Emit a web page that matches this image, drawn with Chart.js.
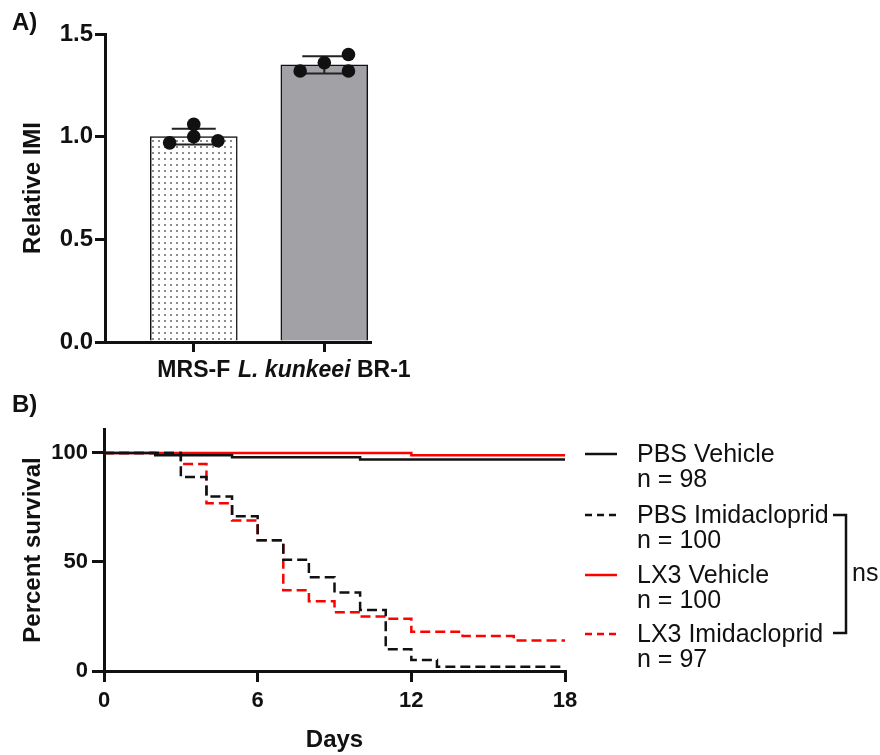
<!DOCTYPE html>
<html>
<head>
<meta charset="utf-8">
<script src="https://cdn.jsdelivr.net/npm/chart.js@4.4.1/dist/chart.umd.min.js"></script>
<style>
  html, body { margin: 0; padding: 0; background: #fff; }
  #page { position: relative; width: 880px; height: 755px; overflow: hidden;
          font-family: "Liberation Sans", Arial, sans-serif; color: #111; }
  #chartA { position: absolute; left: 0; top: 0; }
  #chartB { position: absolute; left: 0; top: 400px; }
  .panel { position: absolute; left: 12px; font-weight: bold; font-size: 24px; line-height: 24px; }
  .leg { position: absolute; left: 637px; font-size: 25px; line-height: 25px; white-space: nowrap; }
  #overlay { position: absolute; left: 0; top: 0; }
</style>
</head>
<body>
<div id="page">
  <canvas id="chartA" width="420" height="400"></canvas>
  <canvas id="chartB" width="600" height="355"></canvas>
  <div class="panel" style="top:10px">A)</div>
  <div class="panel" style="top:392px">B)</div>
  <svg id="overlay" width="880" height="755"></svg>
  <div id="legend"></div>
</div>
<script>
// ---- panel A: relative IMI ----
const barCategories = ['MRS-F', 'L. kunkeei BR-1'];
const italicPrefix = ['', 'L. kunkeei'];
const barMeans = [1.00, 1.35];
const barSD = [0.038, 0.042];
const mrsDots = [0.97, 1.06, 1.00, 0.98];
const mrsJitter = [-0.185, 0, 0, 0.185];
const lkDots = [1.32, 1.36, 1.40, 1.32];
const lkJitter = [-0.185, 0, 0.185, 0.185];
const yTicksA = [0, 0.5, 1.0, 1.5];

// ---- panel B: survival ----
const seriesNames = ['PBS Vehicle', 'PBS Imidacloprid', 'LX3 Vehicle', 'LX3 Imidacloprid'];
const seriesN = [98, 100, 100, 97];
const pbsVehDays = [0, 2, 5, 10, 18];
const pbsVehSurv = [100, 99, 98, 97, 97];
const pbsImiDays = [0, 3, 4, 5, 6, 7, 8, 9, 10, 11, 12, 13, 18];
const pbsImiSurv = [100, 89, 80, 71, 60, 51, 43, 36, 28, 10, 5, 2, 2];
const lx3VehDays = [0, 12, 18];
const lx3VehSurv = [100, 99, 99];
const lx3ImiDays = [0, 3, 4, 5, 6, 7, 8, 9, 10, 11, 12, 14, 16, 18];
const lx3ImiSurv = [100, 95, 77, 69, 60, 37, 32, 27, 25, 24, 18, 16, 14, 14];
const dayTicks = [0, 6, 12, 18];
const survTicks = [0, 50, 100];

const INK = '#111';
const FAM = '"Liberation Sans", Arial, sans-serif';
const tickFontA = { family: FAM, size: 24, weight: 'bold' };
const tickFont = { family: FAM, size: 22, weight: 'bold' };
const titleFont = { family: FAM, size: 24, weight: 'bold' };

function dotPattern() {
    const c = document.createElement('canvas');
    c.width = 6; c.height = 6;
    const g = c.getContext('2d');
    g.fillStyle = '#fff'; g.fillRect(0, 0, 6, 6);
    g.fillStyle = '#8c8c8c'; g.fillRect(2, 2, 2, 2);
    return g.createPattern(c, 'repeat');
}

function pts(xs, ys) { return xs.map((x, i) => ({ x: x, y: ys[i] })); }

// error bars drawn right after the bars, under the dots
const errorBars = {
    id: 'errorBars',
    afterDatasetDraw(chart, args) {
        if (args.index !== 1) return;
        const ctx = chart.ctx, xs = chart.scales.x, ys = chart.scales.y;
        ctx.save();
        ctx.strokeStyle = '#222';
        ctx.lineWidth = 2;
        barMeans.forEach((m, i) => {
            const x = xs.getPixelForValue(i + 1);
            const t = ys.getPixelForValue(m + barSD[i]);
            const b = ys.getPixelForValue(m - barSD[i]);
            ctx.beginPath();
            ctx.moveTo(x, t); ctx.lineTo(x, b);
            ctx.moveTo(x - 22, t); ctx.lineTo(x + 22, t);
            ctx.moveTo(x - 22, b); ctx.lineTo(x + 22, b);
            ctx.stroke();
        });
        ctx.restore();
    }
};

// category labels with the italic genus/species part
const catLabels = {
    id: 'catLabels',
    afterDraw(chart) {
        const ctx = chart.ctx, xs = chart.scales.x;
        ctx.save();
        ctx.fillStyle = INK;
        ctx.textBaseline = 'middle';
        ctx.textAlign = 'left';
        barCategories.forEach((lab, i) => {
            const it = italicPrefix[i];
            const rest = lab.slice(it.length);
            ctx.font = 'italic bold 23px ' + FAM;
            const w1 = it ? ctx.measureText(it).width : 0;
            ctx.font = 'bold 23px ' + FAM;
            const w2 = ctx.measureText(rest).width;
            let x = xs.getPixelForValue(i + 1) - (w1 + w2) / 2;
            const y = 371;
            if (it) {
                ctx.font = 'italic bold 23px ' + FAM;
                ctx.fillText(it, x, y);
                x += w1;
            }
            ctx.font = 'bold 23px ' + FAM;
            ctx.fillText(rest, x, y);
        });
        ctx.restore();
    }
};

const dots = mrsDots.map((v, i) => ({ x: 1 + mrsJitter[i], y: v }))
    .concat(lkDots.map((v, i) => ({ x: 2 + lkJitter[i], y: v })));

new Chart(document.getElementById('chartA'), {
    data: {
        datasets: [
            { type: 'scatter', data: dots, pointRadius: 6.8, pointHoverRadius: 6.8,
              backgroundColor: INK, borderWidth: 0 },
            { type: 'bar', data: barMeans.map((v, i) => ({ x: i + 1, y: v })),
              backgroundColor: [dotPattern(), '#a2a1a6'], borderColor: INK,
              borderWidth: 1.5, barThickness: 87 },
        ],
    },
    options: {
        responsive: false, animation: false,
        layout: { padding: { left: 0, top: 34, right: 50, bottom: 0 } },
        plugins: { legend: { display: false }, tooltip: { enabled: false } },
        scales: {
            x: {
                type: 'linear', min: 0.32, max: 2.35, offset: false,
                afterBuildTicks: s => { s.ticks = [{ value: 1 }, { value: 2 }]; },
                afterFit: s => { s.height = 58; },
                ticks: { callback: () => '' },
                grid: { offset: false, drawOnChartArea: false, tickLength: 10, lineWidth: 3, color: INK },
                border: { width: 3, color: INK },
            },
            y: {
                min: 0, max: 1.5,
                afterBuildTicks: s => { s.ticks = yTicksA.map(v => ({ value: v })); },
                afterFit: s => { s.width = 105; },
                ticks: { callback: v => v.toFixed(1), font: tickFontA, color: INK, padding: 2 },
                grid: { drawOnChartArea: false, tickLength: 10, lineWidth: 3, color: INK },
                border: { width: 3, color: INK },
                title: { display: true, text: 'Relative IMI', font: titleFont, color: INK,
                         padding: { top: 19, bottom: 0 } },
            },
        },
    },
    plugins: [errorBars, catLabels],
});

// ---- panel B ----
new Chart(document.getElementById('chartB'), {
    type: 'line',
    data: {
        datasets: [
            { label: seriesNames[0], data: pts(pbsVehDays, pbsVehSurv), borderColor: INK },
            { label: seriesNames[1], data: pts(pbsImiDays, pbsImiSurv), borderColor: INK, borderDash: [10, 5] },
            { label: seriesNames[2], data: pts(lx3VehDays, lx3VehSurv), borderColor: '#ff0000' },
            { label: seriesNames[3], data: pts(lx3ImiDays, lx3ImiSurv), borderColor: '#ff0000', borderDash: [10, 5] },
        ],
    },
    options: {
        responsive: false, animation: false,
        layout: { padding: { left: 0, top: 29, right: 35, bottom: 0 } },
        elements: {
            line: { stepped: true, borderWidth: 2.5, fill: false },
            point: { radius: 0, hoverRadius: 0 },
        },
        plugins: { legend: { display: false }, tooltip: { enabled: false } },
        scales: {
            x: {
                type: 'linear', min: 0, max: 18,
                afterBuildTicks: s => { s.ticks = dayTicks.map(v => ({ value: v })); },
                afterFit: s => { s.height = 84; },
                ticks: { font: tickFont, color: INK, padding: 6 },
                grid: { drawOnChartArea: false, tickLength: 11, lineWidth: 3, color: INK },
                border: { width: 3, color: INK },
                title: { display: true, text: 'Days', font: titleFont, color: INK,
                         padding: { top: 0, bottom: 0 } },
            },
            y: {
                min: 0, max: 111,
                afterBuildTicks: s => { s.ticks = survTicks.map(v => ({ value: v })); },
                afterFit: s => { s.width = 104; },
                ticks: { font: tickFont, color: INK, padding: 4 },
                grid: { drawOnChartArea: false, tickLength: 12, lineWidth: 3, color: INK },
                border: { width: 3, color: INK },
                title: { display: true, text: 'Percent survival', font: titleFont, color: INK,
                         padding: { top: 19, bottom: 0 } },
            },
        },
    },
});

// ---- legend + "ns" bracket ----
const legendTop = [454, 515, 575, 634];
const legendColor = [INK, INK, '#ff0000', '#ff0000'];
const legendDashed = [false, true, false, true];
const svgNS = 'http://www.w3.org/2000/svg';
const svg = document.getElementById('overlay');
const legend = document.getElementById('legend');
function svgEl(tag, attrs) {
    const e = document.createElementNS(svgNS, tag);
    for (const k in attrs) e.setAttribute(k, attrs[k]);
    svg.appendChild(e);
    return e;
}
seriesNames.forEach((name, i) => {
    const cy = legendTop[i];
    const l = svgEl('line', { x1: 585, x2: 617, y1: cy, y2: cy, stroke: legendColor[i], 'stroke-width': 2.5 });
    if (legendDashed[i]) l.setAttribute('stroke-dasharray', '7 5');
    const d = document.createElement('div');
    d.className = 'leg';
    d.style.top = (cy - 13) + 'px';
    d.innerHTML = name + '<br>n = ' + seriesN[i];
    legend.appendChild(d);
});
svgEl('path', { d: 'M833 515 H846 V633 H833', fill: 'none', stroke: INK, 'stroke-width': 2.5 });
const ns = document.createElement('div');
ns.className = 'leg';
ns.style.left = '852px';
ns.style.top = '560px';
ns.textContent = 'ns';
legend.appendChild(ns);
</script>
</body>
</html>
